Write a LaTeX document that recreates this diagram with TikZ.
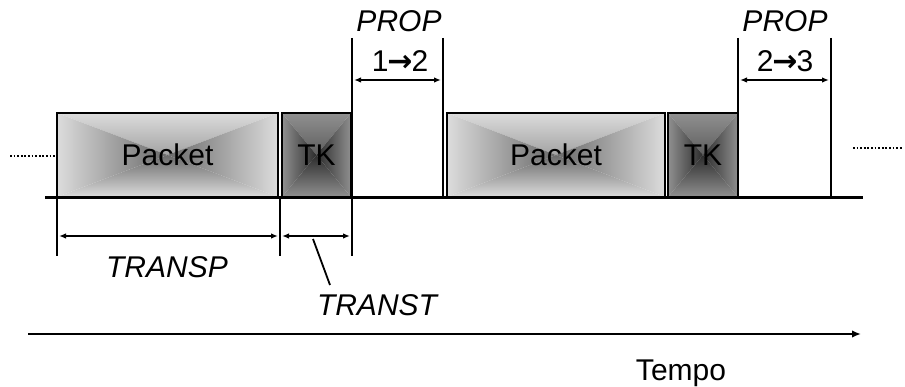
\documentclass[tikz,border=0pt]{standalone}
\usepackage{fontspec}
\setmainfont{Liberation Sans}
\newfontfamily\arrowfont{DejaVu Sans}
\usetikzlibrary{arrows.meta}
\definecolor{pktlight}{HTML}{DCDCDC}
\definecolor{pktdark}{HTML}{6A6A6A}
\definecolor{tklight}{HTML}{909090}
\definecolor{tkdark}{HTML}{2C2C2C}
\newcommand{\rarr}{{\arrowfont\bfseries\kern-1pt→\kern-1pt}}
\begin{document}
\begin{tikzpicture}[x=1pt,y=-1pt,
  txt/.style={font=\fontsize{30}{36}\selectfont, inner sep=0pt, anchor=base},
  itxt/.style={font=\fontsize{30}{36}\selectfont\itshape, inner sep=0pt, anchor=base},
  pyrbox/.style 2 args={draw=black, line width=2.6pt, inner sep=0pt,
    font=\fontsize{30}{36}\selectfont, minimum height=84pt,
    path picture={
      \shade[top color=#1, bottom color=#2] (path picture bounding box.north west) -- (path picture bounding box.north east) -- (path picture bounding box.center) -- cycle;
      \shade[top color=#2, bottom color=#1] (path picture bounding box.south west) -- (path picture bounding box.south east) -- (path picture bounding box.center) -- cycle;
      \shade[left color=#1, right color=#2] (path picture bounding box.north west) -- (path picture bounding box.south west) -- (path picture bounding box.center) -- cycle;
      \shade[left color=#2, right color=#1] (path picture bounding box.north east) -- (path picture bounding box.south east) -- (path picture bounding box.center) -- cycle;
    }},
  vline/.style={line width=2pt},
  dimarrow/.style={line width=2pt, {Latex[length=7pt,width=5.5pt]}-{Latex[length=7pt,width=5.5pt]}},
  dotline/.style={line width=2pt, dash pattern=on 1.8pt off 1.8pt},
]
\useasboundingbox (0,0) rectangle (905,387);

% boxes
\node[pyrbox={pktlight}{pktdark}, minimum width=221pt] (p1) at (167.5,155) {Packet};
\node[pyrbox={tklight}{tkdark}, minimum width=69pt] (t1) at (316.5,155) {TK};
\node[pyrbox={pktlight}{pktdark}, minimum width=218pt] (p2) at (556,155) {Packet};
\node[pyrbox={tklight}{tkdark}, minimum width=70pt] (t2) at (703,155) {TK};

% baseline
\coordinate (bl0) at (45,198);
\coordinate (bl1) at (863,198);
\draw[line width=3pt] (bl0) -- (bl1);

% vertical marker lines
\coordinate (v1top) at (57,198);   \coordinate (v1bot) at (57,256);
\coordinate (v2top) at (280,198);  \coordinate (v2bot) at (280,256);
\coordinate (v3top) at (352,38);   \coordinate (v3bot) at (352,256);
\coordinate (v4top) at (443,38);   \coordinate (v4bot) at (443,196);
\coordinate (v5top) at (738,38);   \coordinate (v5bot) at (738,197);
\coordinate (v6top) at (831,38);   \coordinate (v6bot) at (831,196);
\foreach \i in {1,...,6} { \draw[vline] (v\i top) -- (v\i bot); }

% dimension arrows
\coordinate (d1a) at (59,236);  \coordinate (d1b) at (278,236);
\coordinate (d2a) at (282,236); \coordinate (d2b) at (350,236);
\coordinate (d3a) at (354,80);  \coordinate (d3b) at (441,80);
\coordinate (d4a) at (740,80);  \coordinate (d4b) at (829,80);
\draw[dimarrow] (d1a) -- (d1b);
\draw[dimarrow] (d2a) -- (d2b);
\draw[dimarrow] (d3a) -- (d3b);
\draw[dimarrow] (d4a) -- (d4b);

% labels
\node[itxt] (transp) at (167,278) {TRANSP};
\node[itxt] (transt) at (377,316) {TRANST};
\node[itxt] (prop1) at (399,32) {PROP};
\node[txt] (n12) at (400,72) {1\rarr2};
\node[itxt] (prop2) at (785,32) {PROP};
\node[txt] (n23) at (785,72) {2\rarr3};
\node[txt] (tempo) at (681,380) {Tempo};

% leader for TRANST
\coordinate (lead0) at (313,239);
\coordinate (lead1) at (330,285);
\draw[line width=1.8pt] (lead0) -- (lead1);

% dotted continuation
\coordinate (dl0) at (10,156); \coordinate (dl1) at (56,156);
\coordinate (dr0) at (853,148); \coordinate (dr1) at (903,148);
\draw[dotline] (dl0) -- (dl1);
\draw[dotline] (dr0) -- (dr1);

% time axis
\coordinate (ax0) at (28,334);
\coordinate (ax1) at (861,334);
\draw[line width=2pt, -{Latex[length=9pt,width=7.5pt]}] (ax0) -- (ax1);
\end{tikzpicture}
\end{document}
